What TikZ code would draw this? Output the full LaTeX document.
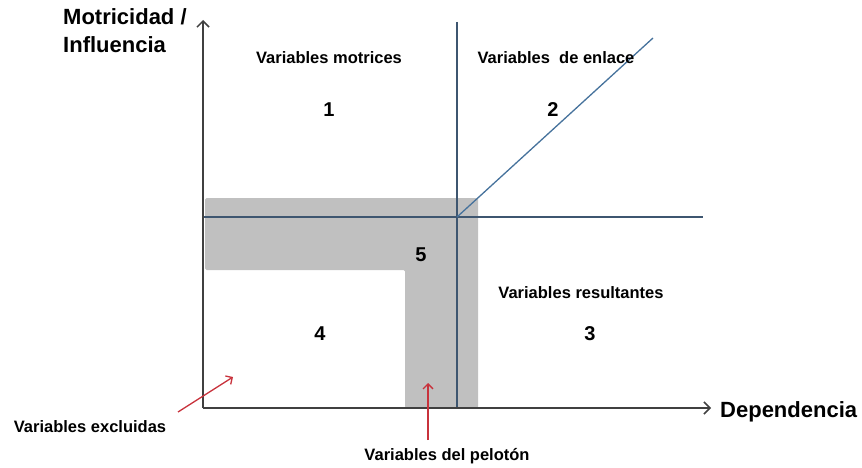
\documentclass[tikz,border=0pt]{standalone}
\usepackage{fontspec}
\setmainfont{Liberation Sans}
\usetikzlibrary{positioning}
\usetikzlibrary{arrows.meta}
\definecolor{axisgray}{HTML}{404040}
\definecolor{lineblue}{HTML}{46729C}
\definecolor{vblue}{HTML}{3E5670}
\definecolor{zonegray}{HTML}{C0C0C0}
\definecolor{pointred}{HTML}{C8323C}
\tikzset{
    matrix diagram/.style={
            x=1pt,y=-1pt,font=\bfseries,
            axis/.style={-{Straight Barb[length=6pt,width=12pt]},axisgray,line width=1.5pt},
            divider/.style={vblue,line width=1.3pt},
            pointer/.style={-{Straight Barb[length=5pt,width=10pt]},pointred,line width=1.3pt},
            zonelabel/.style={font=\fontsize{16.5}{18}\bfseries},
            zonenum/.style={font=\fontsize{20}{22}\bfseries},
            axislabel/.style={font=\fontsize{22}{28}\bfseries,align=left}
        }
    }

\begin{document}
\begin{tikzpicture}[matrix diagram]
    \useasboundingbox (0,0) rectangle (862,468);
    % zone 5
    \fill [zonegray,rounded corners=1.5pt] (205,198) -- (478,198) -- (478,408) -- (405,408) -- (405,270) -- (205,270) -- cycle;
    \coordinate (origin) at (203,408);
    \coordinate (ytop) at (203,20);
    \coordinate (xend) at (711,408);
    \coordinate (center) at (457,217);
    \coordinate (hleft) at (203,217);
    \coordinate (hright) at (703,217);
    \coordinate (vtop) at (457,22);
    \coordinate (vbottom) at (457,408);
    \coordinate (diagend) at (653,38);
    \draw [divider] (hleft) -- (hright);
    \draw [divider] (vtop) -- (vbottom);
    \draw [divider,lineblue] (center) -- (diagend);
    \draw [axis] (origin) -- (ytop);
    \draw [axis] (origin) -- (xend);
    \node (ylabel) [axislabel,anchor=north west,inner sep=0pt] at (63,8) {Motricidad /\\Influencia};
    \node (xlabel) [axislabel,anchor=west,inner sep=0pt] at (720,412) {Dependencia};
    \node (motrices) [zonelabel] at (329,58) {Variables motrices};
    \node (enlace) [zonelabel] at (556,58) {Variables\ \ de enlace};
    \node (resultantes) [zonelabel] at (581,293) {Variables resultantes};
    \node (one) [zonenum] at (329,110) {1};
    \node (two) [zonenum] at (553,110) {2};
    \node (three) [zonenum] at (590,334) {3};
    \node (four) [zonenum] at (320,334) {4};
    \node (five) [zonenum] at (421,255) {5};
    \node (excluidas) [zonelabel] at (90,427) {Variables excluidas};
    \node (peloton) [zonelabel] at (447,456) {Variables del pelotón};
    \coordinate (exclstart) at (178,412);
    \coordinate (excltip) at (233,377);
    \coordinate (pelstart) at (428,440);
    \coordinate (peltip) at (428,383);
    \draw [pointer] (exclstart) -- (excltip);
    \draw [pointer] (pelstart) -- (peltip);
\end{tikzpicture}
\end{document}
